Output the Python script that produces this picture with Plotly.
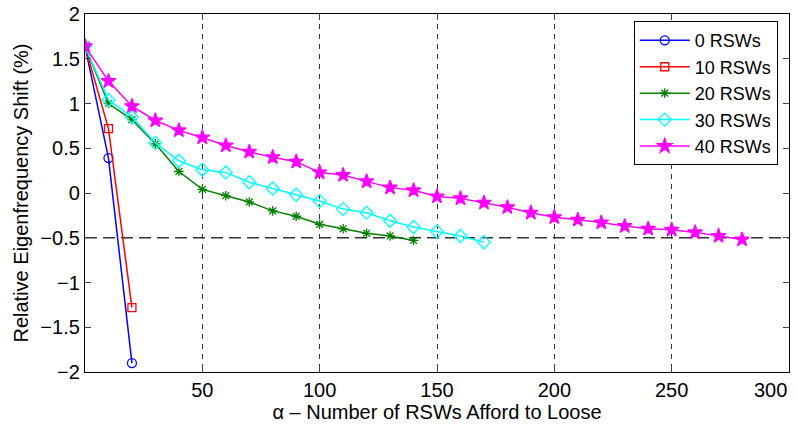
import plotly.graph_objects as go

x_all = [0, 10, 20, 30, 40, 50, 60, 70, 80, 90, 100, 110, 120, 130, 140, 150, 160, 170, 180, 190,
         200, 210, 220, 230, 240, 250, 260, 270, 280]

y_0 = [1.64, 0.39, -1.9]
y_10 = [1.64, 0.72, -1.28]
y_20 = [1.64, 1.00, 0.82, 0.55, 0.24, 0.04, -0.03, -0.10, -0.20, -0.26, -0.35, -0.40, -0.45, -0.48, -0.53]
y_30 = [1.64, 1.04, 0.85, 0.56, 0.36, 0.26, 0.23, 0.12, 0.05, -0.02, -0.09, -0.18, -0.22, -0.31, -0.38,
        -0.43, -0.48, -0.55]
y_40 = [1.64, 1.25, 0.97, 0.81, 0.70, 0.62, 0.53, 0.46, 0.40, 0.35, 0.23, 0.20, 0.13, 0.06, 0.03,
        -0.04, -0.06, -0.11, -0.16, -0.22, -0.27, -0.30, -0.33, -0.37, -0.40, -0.41, -0.44, -0.48, -0.52]

names = ["0 RSWs", "10 RSWs", "20 RSWs", "30 RSWs", "40 RSWs"]
threshold = -0.5
x_ticks = [50, 100, 150, 200, 250, 300]
x_tick_text = ["50", "100", "150", "200", "250", ""]
x_last_tick = 300
y_ticks = [-2, -1.5, -1, -0.5, 0, 0.5, 1, 1.5, 2]
y_tick_text = ["\u22122", "\u22121.5", "\u22121", "\u22120.5", "0", "0.5", "1", "1.5", "2"]

series = [y_0, y_10, y_20, y_30, y_40]
colors = ["#0000ff", "#ff0000", "#008000", "#00ffff", "#ff00ff"]
symbols = ["circle-open", "square-open", "asterisk-open", "diamond-open", "star"]
sizes = [9, 8, 8, 10, 11]

FS = 20
font = "Liberation Sans, Arial, Helvetica, sans-serif"

fig = go.Figure()
for ys, nm, c, s, sz in zip(series, names, colors, symbols, sizes):
    fig.add_trace(go.Scatter(
        x=x_all[:len(ys)], y=ys, name=nm, mode="lines+markers",
        line=dict(color=c, width=1.5),
        marker=dict(symbol=s, size=sz, color=c, line=dict(color=c, width=1.3)),
    ))

fig.add_shape(type="line", xref="paper", x0=0, x1=1, yref="y", y0=threshold, y1=threshold,
              line=dict(color="#333333", width=1.3, dash="12px,6px"), layer="below")

# last x tick label, shifted left so it stays inside the page (as in the original)
fig.add_annotation(x=x_last_tick, xref="x", y=0, yref="paper", text=str(x_last_tick),
                   showarrow=False, xanchor="right", yanchor="top", xshift=0, yshift=-5,
                   font=dict(size=FS, family=font, color="black"))

fig.update_layout(
    width=798, height=431,
    margin=dict(l=85, r=9, t=14, b=59),
    plot_bgcolor="white", paper_bgcolor="white",
    font=dict(family=font, size=FS, color="black"),
    showlegend=True,
    legend=dict(x=0.984, y=0.98, xanchor="right", yanchor="top",
                bordercolor="black", borderwidth=1, bgcolor="white",
                font=dict(size=18), tracegroupgap=0, itemwidth=50),
    xaxis=dict(range=[0, 300], tickvals=x_ticks, ticktext=x_tick_text, ticks="inside", ticklen=6,
               showline=True, linecolor="black", linewidth=1.3, mirror="ticks",
               showgrid=True, gridcolor="#333333", gridwidth=1, griddash="5px,5px",
               zeroline=False, tickfont=dict(size=FS), automargin=False,
               title=dict(text="\u03b1 \u2013 Number of RSWs Afford to Loose", font=dict(size=FS), standoff=4)),
    yaxis=dict(range=[-2, 2], tickvals=y_ticks, ticktext=y_tick_text, ticks="inside", ticklen=6,
               showline=True, linecolor="black", linewidth=1.3, mirror="ticks",
               showgrid=False, zeroline=False, tickfont=dict(size=FS), automargin=False,
               ticklabeloverflow="allow",
               title=dict(text="Relative Eigenfrequency Shift (%)", font=dict(size=FS), standoff=6)),
)

fig.write_html("out.html", config={"displayModeBar": False},
               post_script="document.body.style.margin='0';document.body.style.overflow='hidden';")
